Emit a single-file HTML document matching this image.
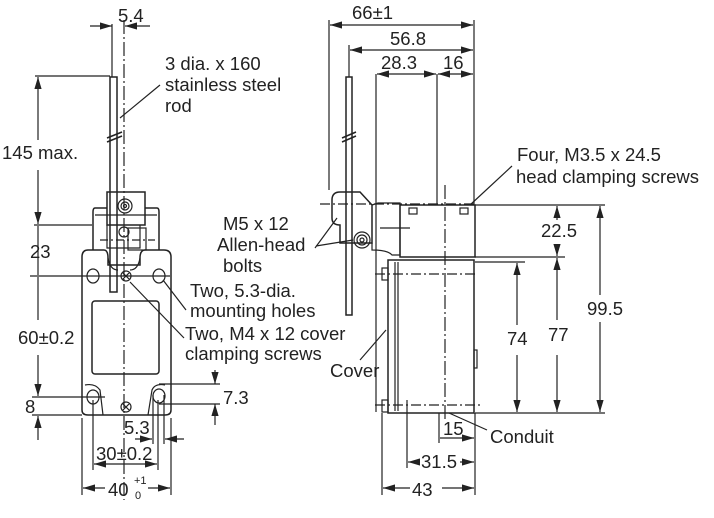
<!DOCTYPE html>
<html><head><meta charset="utf-8"><style>
html,body{margin:0;padding:0;background:#fff}
svg{display:block}
text{font-family:"Liberation Sans",sans-serif;font-size:18.5px;fill:#222}
</style></head><body>
<svg width="714" height="518" viewBox="0 0 714 518" xmlns="http://www.w3.org/2000/svg">
<defs>
<marker id="a" viewBox="0 0 10 6" refX="10" refY="3" markerWidth="10" markerHeight="6" orient="auto-start-reverse"><path d="M0,0L10,3L0,6z" fill="#222"/></marker>
</defs>
<g stroke="#222" stroke-width="1.2" fill="none">
<!-- LEFT VIEW -->
<rect x="110" y="77" width="7" height="215" stroke-width="1.5"/>
<line x1="124" y1="20" x2="124" y2="500" stroke-dasharray="14,3,2,3"/>
<line x1="112" y1="24" x2="112" y2="77"/>
<line x1="90" y1="26" x2="112" y2="26" marker-end="url(#a)"/>
<line x1="150" y1="26" x2="125" y2="26" marker-end="url(#a)"/>
<line x1="107" y1="138" x2="122" y2="132" stroke-width="1.5"/>
<line x1="107" y1="142" x2="122" y2="136" stroke-width="1.5"/>
<line x1="120" y1="118" x2="160" y2="85"/>
<rect x="107" y="192" width="38" height="33" stroke-width="1.5"/>
<circle cx="125" cy="206" r="7"/><circle cx="125" cy="206" r="4"/><circle cx="125" cy="206" r="1.5"/>
<path d="M107,208H95Q93,208 93,212V250M145,208H157Q159,208 159,212V250" stroke-width="1.5"/>
<line x1="95" y1="215" x2="157" y2="215"/>
<path d="M107,225V248H140V225"/>
<circle cx="124" cy="232" r="5"/>
<rect x="128" y="228" width="18" height="22"/>
<line x1="100" y1="240" x2="155" y2="240" stroke-dasharray="8,3,2,3"/>
<path d="M88,250H104Q108,250 108,258V265H140V258Q140,250 145,250H164Q171,250 171,257V410Q171,415 165,415H88Q82,415 82,410V257Q82,250 88,250Z" stroke-width="1.5"/>
<path d="M108,258Q110,270 118,270M140,258Q138,270 130,270" />
<rect x="92" y="301" width="67" height="73" rx="3" stroke-width="1.5"/>
<path d="M85,385Q95,383 100,390L103,415M165,385Q155,383 152,390L148,415"/>
<ellipse cx="93" cy="276" rx="6" ry="7"/><ellipse cx="159" cy="276" rx="6" ry="7"/>
<ellipse cx="93" cy="397" rx="6" ry="7"/><ellipse cx="159" cy="396" rx="6" ry="7"/>
<circle cx="126" cy="276" r="5"/><path d="M123,273l6,6M129,273l-6,6"/>
<circle cx="126" cy="407" r="5"/><path d="M123,404l6,6M129,404l-6,6"/>
<line x1="30" y1="276" x2="170" y2="276"/>
<line x1="35" y1="76" x2="110" y2="76"/>
<line x1="38" y1="140" x2="38" y2="77" marker-end="url(#a)"/>
<line x1="38" y1="170" x2="38" y2="224" marker-end="url(#a)"/>
<line x1="34" y1="225" x2="92" y2="225"/>
<line x1="38" y1="226" x2="38" y2="275"/>
<line x1="38" y1="277" x2="38" y2="320"/>
<line x1="38" y1="355" x2="38" y2="396" marker-end="url(#a)"/>
<line x1="32" y1="397" x2="105" y2="397"/>
<line x1="32" y1="415" x2="82" y2="415"/>
<line x1="38" y1="440" x2="38" y2="416" marker-end="url(#a)"/>
<line x1="159" y1="384" x2="220" y2="384"/>
<line x1="159" y1="404" x2="220" y2="404"/>
<line x1="215" y1="370" x2="215" y2="384" marker-end="url(#a)"/>
<line x1="215" y1="425" x2="215" y2="404" marker-end="url(#a)"/>
<line x1="93" y1="400" x2="93" y2="470"/><line x1="158" y1="400" x2="158" y2="470"/>
<line x1="153" y1="395" x2="153" y2="444"/><line x1="164" y1="395" x2="164" y2="444"/>
<line x1="135" y1="439" x2="152" y2="439" marker-end="url(#a)"/>
<line x1="184" y1="439" x2="165" y2="439" marker-end="url(#a)"/>
<line x1="94" y1="464" x2="157" y2="464" marker-start="url(#a)" marker-end="url(#a)"/>
<line x1="82" y1="418" x2="82" y2="495"/><line x1="171" y1="418" x2="171" y2="495"/>
<line x1="83" y1="488" x2="105" y2="488" marker-start="url(#a)"/>
<line x1="148" y1="488" x2="170" y2="488" marker-end="url(#a)"/>
<line x1="163" y1="280" x2="186" y2="310"/>
<line x1="130" y1="282" x2="184" y2="338"/>
<!-- RIGHT VIEW -->
<rect x="346" y="77" width="6" height="238" stroke-width="1.5"/>
<line x1="342" y1="138" x2="356" y2="132" stroke-width="1.5"/>
<line x1="342" y1="142" x2="356" y2="136" stroke-width="1.5"/>
<path d="M340,192H360L372,205V243H340V225Q332,225 332,218V200Q332,192 340,192Z" stroke-width="1.5"/>
<circle cx="362" cy="240" r="8"/><circle cx="362" cy="240" r="5"/><circle cx="362" cy="240" r="2"/>
<path d="M372,205L378,203H400V255H392Q388,250 372,250V243"/>
<rect x="400" y="205" width="75" height="52" stroke-width="1.5"/>
<rect x="409" y="208" width="8" height="6"/><rect x="460" y="208" width="8" height="6"/>
<line x1="320" y1="204" x2="475" y2="204" stroke-dasharray="10,3,2,3"/>
<line x1="380" y1="228" x2="410" y2="228"/>
<line x1="445" y1="185" x2="445" y2="420" stroke-dasharray="14,3,2,3"/>
<line x1="376" y1="74" x2="376" y2="412"/>
<line x1="437" y1="74" x2="437" y2="205"/>
<path d="M388,260H474V413H388Z" stroke-width="1.5"/>
<line x1="395" y1="262" x2="395" y2="411"/><line x1="398" y1="262" x2="398" y2="411"/>
<rect x="382" y="268" width="6" height="12"/><rect x="382" y="400" width="6" height="12"/>
<line x1="375" y1="274" x2="475" y2="274" stroke-dasharray="10,3,2,3"/>
<line x1="375" y1="405" x2="480" y2="405" stroke-dasharray="10,3,2,3"/>
<rect x="474" y="350" width="3" height="18"/>
<line x1="329" y1="20" x2="329" y2="190"/>
<line x1="474" y1="20" x2="474" y2="205"/>
<line x1="330" y1="25" x2="473" y2="25" marker-start="url(#a)" marker-end="url(#a)"/>
<line x1="349" y1="45" x2="349" y2="77"/>
<line x1="350" y1="50" x2="473" y2="50" marker-start="url(#a)" marker-end="url(#a)"/>
<line x1="377" y1="74" x2="436" y2="74" marker-start="url(#a)" marker-end="url(#a)"/>
<line x1="438" y1="74" x2="473" y2="74" marker-start="url(#a)" marker-end="url(#a)"/>
<line x1="475" y1="205" x2="605" y2="205"/>
<line x1="475" y1="257" x2="565" y2="257"/>
<line x1="475" y1="262" x2="525" y2="262"/>
<line x1="475" y1="413" x2="605" y2="413"/>
<line x1="557" y1="220" x2="557" y2="206" marker-end="url(#a)"/>
<line x1="557" y1="245" x2="557" y2="256" marker-end="url(#a)"/>
<line x1="557" y1="258" x2="557" y2="320" marker-start="url(#a)"/>
<line x1="557" y1="355" x2="557" y2="412" marker-end="url(#a)"/>
<line x1="517" y1="263" x2="517" y2="325" marker-start="url(#a)"/>
<line x1="517" y1="355" x2="517" y2="412" marker-end="url(#a)"/>
<line x1="600" y1="206" x2="600" y2="295" marker-start="url(#a)"/>
<line x1="600" y1="322" x2="600" y2="412" marker-end="url(#a)"/>
<line x1="382" y1="413" x2="382" y2="495"/>
<line x1="475" y1="413" x2="475" y2="495"/>
<line x1="407" y1="400" x2="407" y2="468"/>
<line x1="439" y1="413" x2="439" y2="443"/>
<line x1="440" y1="438" x2="474" y2="438" marker-end="url(#a)"/>
<line x1="408" y1="462" x2="420" y2="462" marker-start="url(#a)"/>
<line x1="460" y1="462" x2="474" y2="462" marker-end="url(#a)"/>
<line x1="383" y1="488" x2="410" y2="488" marker-start="url(#a)"/>
<line x1="442" y1="488" x2="474" y2="488" marker-end="url(#a)"/>
<line x1="449" y1="413" x2="487" y2="430"/>
<line x1="386" y1="330" x2="360" y2="360"/>
<line x1="315" y1="248" x2="337" y2="218"/>
<line x1="316" y1="246" x2="353" y2="240"/>
<line x1="470" y1="205" x2="512" y2="166"/>
</g>
<g>
<text x="118" y="22">5.4</text>
<text x="165" y="70">3 dia. x 160</text>
<text x="165" y="91">stainless steel</text>
<text x="165" y="112">rod</text>
<text x="2" y="159">145 max.</text>
<text x="30" y="258">23</text>
<text x="18" y="344">60±0.2</text>
<text x="25" y="413">8</text>
<text x="223" y="404">7.3</text>
<text x="124" y="434">5.3</text>
<text x="96" y="460">30±0.2</text>
<text x="108" y="496">40</text>
<text x="134" y="484" style="font-size:11px">+1</text>
<text x="135" y="499" style="font-size:11px">0</text>
<text x="190" y="297">Two, 5.3-dia.</text>
<text x="190" y="317">mounting holes</text>
<text x="185" y="340">Two, M4 x 12 cover</text>
<text x="185" y="360">clamping screws</text>
<text x="223" y="230">M5 x 12</text>
<text x="217" y="251">Allen-head</text>
<text x="223" y="272">bolts</text>
<text x="330" y="377">Cover</text>
<text x="352" y="19">66±1</text>
<text x="390" y="45">56.8</text>
<text x="381" y="69">28.3</text>
<text x="443" y="69">16</text>
<text x="517" y="161">Four, M3.5 x 24.5</text>
<text x="516" y="183">head clamping screws</text>
<text x="541" y="237">22.5</text>
<text x="587" y="315">99.5</text>
<text x="507" y="345">74</text>
<text x="548" y="341">77</text>
<text x="443" y="435">15</text>
<text x="490" y="443">Conduit</text>
<text x="421" y="468">31.5</text>
<text x="412" y="496">43</text>
</g>
</svg>
</body></html>
